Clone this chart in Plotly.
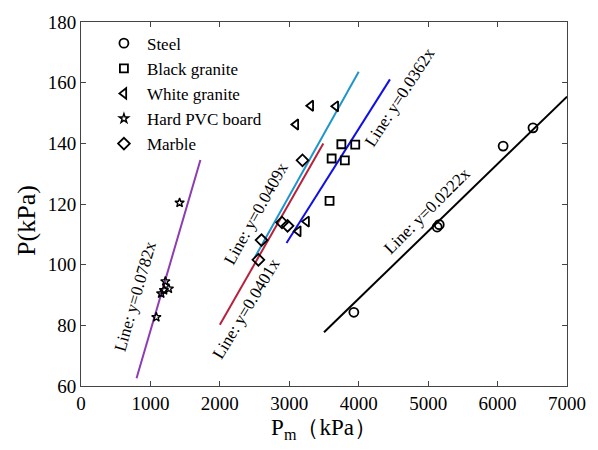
import plotly.graph_objects as go

# ---- data ----
steel_x = [3930, 5130, 5160, 6080, 6510]
steel_y = [84.3, 112.4, 113.2, 139.1, 145.1]

black_x = [3750, 3950, 3610, 3800, 3580]
black_y = [139.7, 139.6, 135.0, 134.4, 121.0]

white_x = [3310, 3670, 3095, 3250, 3130]
white_y = [152.4, 152.2, 146.2, 114.2, 111.0]

pvc_x = [1420, 1215, 1265, 1155, 1195, 1085]
pvc_y = [120.4, 94.5, 92.1, 90.5, 91.6, 82.7]

marble_x = [3190, 2600, 2555, 2895, 2975]
marble_y = [134.4, 108.1, 101.6, 113.9, 112.8]

# fitted lines: slope, x range, colour, label position (data coords), label angle
fit_slopes = [0.0222, 0.0362, 0.0409, 0.0782, 0.0401]
fit_x0 = [3500, 2960, 2500, 800, 2000]
fit_x1 = [7000, 4450, 4000, 1720, 3490]
fit_colors = ["#000000", "#1010E6", "#1E96CC", "#8C3CB4", "#B8203C"]
label_x = [4990, 4590, 2520, 785, 2380]
label_y = [117.9, 155.1, 116.9, 89.4, 85.6]
label_angle = [-45, -57, -61, -74, -59]

series = [
    ("Steel", steel_x, steel_y, "circle-open", 9, 1.8),
    ("Black granite", black_x, black_y, "square-open", 8, 1.8),
    ("White granite", white_x, white_y, "triangle-left-open", 9, 1.8),
    ("Hard PVC board", pvc_x, pvc_y, "star-open", 7, 1.4),
    ("Marble", marble_x, marble_y, "diamond-open", 9, 1.8),
]

FONT = "Liberation Serif, Times New Roman, serif"

fig = go.Figure()

for slope, x0, x1, col in zip(fit_slopes, fit_x0, fit_x1, fit_colors):
    fig.add_trace(go.Scatter(
        x=[x0, x1], y=[slope * x0, slope * x1], mode="lines",
        line=dict(color=col, width=2), showlegend=False, hoverinfo="skip"))

for name, xs, ys, sym, sz, lw in series:
    fig.add_trace(go.Scatter(
        x=xs, y=ys, mode="markers", name=name,
        marker=dict(symbol=sym, size=sz, color="black",
                    line=dict(color="black", width=lw))))

for slope, lx, ly, ang in zip(fit_slopes, label_x, label_y, label_angle):
    fig.add_annotation(
        x=lx, y=ly, xref="x", yref="y", text=f"Line: y={slope}x",
        showarrow=False, textangle=ang, xanchor="center", yanchor="middle",
        font=dict(family=FONT, size=17, color="black"))

# y-axis title as annotation (centred slightly below the plot centre, as in the reference)
fig.add_annotation(
    x=-0.112, y=0.455, xref="paper", yref="paper", text="P(kPa)",
    showarrow=False, textangle=-90, xanchor="center", yanchor="middle",
    font=dict(family=FONT, size=26, color="black"))

axis_common = dict(
    showline=True, linecolor="#444", linewidth=1, mirror="ticks",
    ticks="inside", ticklen=5, tickcolor="#444", showgrid=False, zeroline=False,
    tickfont=dict(family=FONT, size=19, color="black"),
)

fig.update_xaxes(range=[0, 7000], dtick=1000, **axis_common,
                 title=dict(text="P<sub>m</sub>（kPa）",
                            font=dict(family=FONT, size=23, color="black"),
                            standoff=6))
fig.update_yaxes(range=[60, 180], dtick=20, **axis_common)

fig.update_layout(
    width=598, height=450,
    margin=dict(l=81, r=29, t=15, b=64),
    paper_bgcolor="white", plot_bgcolor="white",
    legend=dict(x=0.041, y=0.99, xanchor="left", yanchor="top",
                bgcolor="rgba(0,0,0,0)", borderwidth=0,
                font=dict(family=FONT, size=17, color="black"),
                itemwidth=36, tracegroupgap=0),
    showlegend=True,
)

fig.write_html("out.html")
